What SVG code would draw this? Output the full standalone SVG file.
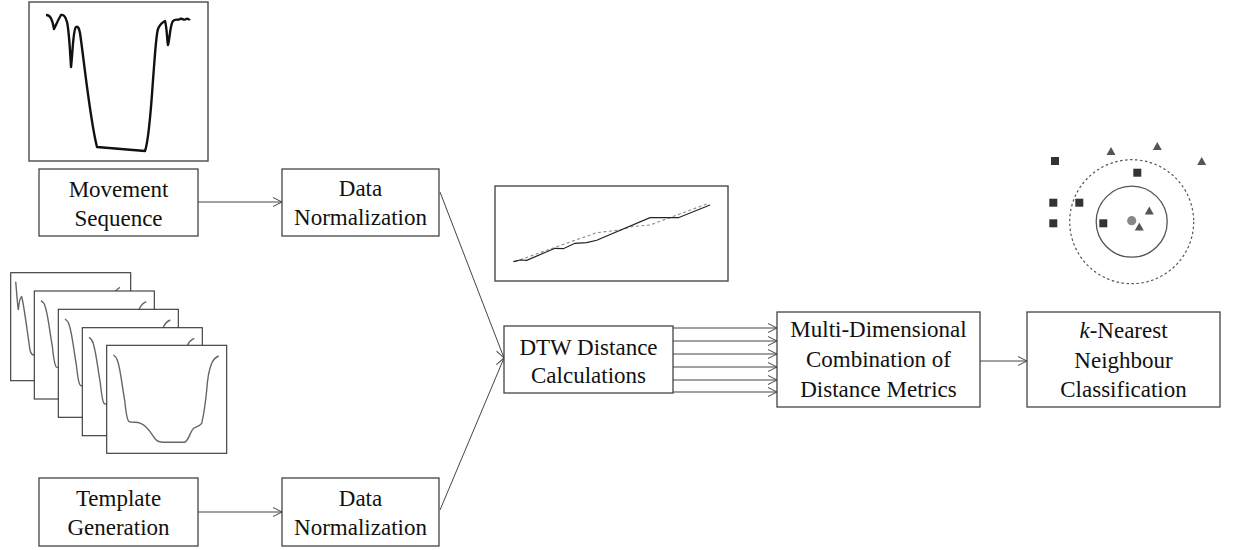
<svg xmlns="http://www.w3.org/2000/svg" width="1233" height="550" viewBox="0 0 1233 550">
<style>
.box{fill:#fff;stroke:#444;stroke-width:1.3}
.pbox{fill:#fff;stroke:#555;stroke-width:1.5}
.tbox{fill:#fff;stroke:#333;stroke-width:1.1}
.lbl{font-family:'Liberation Serif','DejaVu Serif','Noto Serif',serif;font-size:23px;fill:#111;text-anchor:middle}
.con{fill:none;stroke:#444;stroke-width:1;marker-end:url(#ah)}
.curve{fill:none;stroke:#666;stroke-width:1.4}
.sq{fill:#333}
.tri{fill:#555}
</style>
<defs>
<marker id="ah" viewBox="0 0 10 10" refX="9" refY="5" markerWidth="10" markerHeight="10" markerUnits="userSpaceOnUse" orient="auto">
<path d="M0,0.5 L9,5 L0,9.5" fill="none" stroke="#444" stroke-width="1"/>
</marker>
<path id="tc" d="M6.7,9.7 C9,11 10,12 11,16 C14,25 16,45 18,55 C19,65 20,74 22,76 C25,78 30,76 34,78 C39,80 42,84 46,90 C49,95 51,97 56,97 L78,97 C82,95 83,88 86,84 C88,81 92,82 95,78 C97,70 99,55 100,45 C101,30 102,25 105,18 C107,13 109,12 112,10.7"/>
</defs>

<g id="movement-plot">
<rect class="pbox" x="29" y="2" width="179" height="159"/>
<path d="M46,15 C50,15 52,18 54,29 C56,25 58,20 61,15 C64,14 66,18 67,22 C69,30 70,50 71,67 C73,50 73,30 76,27 C78,26 79,28 80,33 C84,60 90,120 97,147 L145,151 C149,140 151,110 153,80 C155,55 156,35 158,29 C160,24 163,22 165,21 C167,28 167,40 168,45 C170,38 170,25 173,21 C176,18 178,21 180,19 C183,18 184,21 186,19 C188,18 189,20 190,19" fill="none" stroke="#111" stroke-width="2.4" stroke-linejoin="round"/>
</g>

<g id="template-stack">
<rect class="tbox" x="10.7" y="272.7" width="120" height="108"/>
<path class="curve" d="M15.7,281.7 C16.5,290 17,300 18.3,310 C19,303 20,297 21.7,296.7 C24,305 27,330 30,350 C31,354 32,355 34,355"/>
<path class="curve" d="M115,292 C117,289 118,288 120,287.3"/>
<rect class="tbox" x="34.3" y="291" width="120" height="108"/>
<use href="#tc" class="curve" transform="translate(34.3,291)"/>
<rect class="tbox" x="58.3" y="309.3" width="120" height="108"/>
<use href="#tc" class="curve" transform="translate(58.3,309.3)"/>
<rect class="tbox" x="82.3" y="327.7" width="120" height="108"/>
<use href="#tc" class="curve" transform="translate(82.3,327.7)"/>
<rect class="tbox" x="106.7" y="345.3" width="120" height="108"/>
<use href="#tc" class="curve" transform="translate(106.7,345.3)"/>
</g>

<g id="dtw-plot">
<rect class="pbox" x="495" y="186" width="233" height="95"/>
<polyline points="515,261.7 556.7,246.7 596.7,232.7 620,230 631.7,226.7 650,225 706.7,204" fill="none" stroke="#888" stroke-width="1.1" stroke-dasharray="3,2.5"/>
<polyline points="513.3,261.7 520,260 526.7,260.3 555,248.3 563.3,248.7 575,243.3 586.7,242.7 596.7,240.3 650,217.7 678.3,217.7 710,205" fill="none" stroke="#222" stroke-width="1.2"/>
</g>

<g id="knn-plot">
<circle cx="1131.7" cy="221.7" r="62" fill="none" stroke="#555" stroke-width="1.2" stroke-dasharray="2.5,2.5"/>
<circle cx="1131.7" cy="221.7" r="35.5" fill="none" stroke="#555" stroke-width="1.3"/>
<rect class="sq" x="1051" y="157" width="8" height="8"/>
<rect class="sq" x="1133.3" y="168.7" width="8" height="8"/>
<rect class="sq" x="1049.3" y="198.7" width="8" height="8"/>
<rect class="sq" x="1075.3" y="198.7" width="8" height="8"/>
<rect class="sq" x="1049.3" y="219.3" width="8" height="8"/>
<rect class="sq" x="1099.3" y="219.3" width="8" height="8"/>
<polygon class="tri" points="1111,147 1115.5,155 1106.5,155"/>
<polygon class="tri" points="1157.3,142 1161.8,150 1152.8,150"/>
<polygon class="tri" points="1201.7,157 1206.2,165 1197.2,165"/>
<polygon class="tri" points="1149.3,206.5 1153.8,214.5 1144.8,214.5"/>
<polygon class="tri" points="1139.3,222.5 1143.8,230.5 1134.8,230.5"/>
<circle cx="1131.7" cy="220.7" r="4.6" fill="#888"/>
</g>

<g id="connectors">
<line class="con" x1="198" y1="202" x2="282" y2="202"/>
<line class="con" x1="198" y1="512" x2="282" y2="512"/>
<line class="con" x1="440" y1="192" x2="504" y2="358"/>
<line class="con" x1="440" y1="510" x2="504" y2="358"/>
<line class="con" x1="673" y1="328" x2="777" y2="328"/>
<line class="con" x1="673" y1="341" x2="777" y2="341"/>
<line class="con" x1="673" y1="354" x2="777" y2="354"/>
<line class="con" x1="673" y1="367" x2="777" y2="367"/>
<line class="con" x1="673" y1="380" x2="777" y2="380"/>
<line class="con" x1="673" y1="392" x2="777" y2="392"/>
<line class="con" x1="980" y1="361" x2="1027" y2="361"/>
</g>

<g id="movement-sequence">
<rect class="box" x="39" y="169" width="159" height="67"/>
<text class="lbl" x="118.5" y="197">Movement</text>
<text class="lbl" x="118.5" y="225.5">Sequence</text>
</g>

<g id="data-normalization-1">
<rect class="box" x="282" y="169" width="157" height="67"/>
<text class="lbl" x="360.5" y="196.3">Data</text>
<text class="lbl" x="360.5" y="224.7">Normalization</text>
</g>

<g id="template-generation">
<rect class="box" x="39" y="478" width="159" height="68"/>
<text class="lbl" x="118.5" y="506">Template</text>
<text class="lbl" x="118.5" y="534.5">Generation</text>
</g>

<g id="data-normalization-2">
<rect class="box" x="282" y="478" width="157" height="68"/>
<text class="lbl" x="360.5" y="506">Data</text>
<text class="lbl" x="360.5" y="534.5">Normalization</text>
</g>

<g id="dtw">
<rect class="box" x="504" y="326" width="169" height="67"/>
<text class="lbl" x="588.5" y="355">DTW Distance</text>
<text class="lbl" x="588.5" y="382.5">Calculations</text>
</g>

<g id="multi-dimensional">
<rect class="box" x="777" y="312" width="203" height="95"/>
<text class="lbl" x="878.5" y="336.5">Multi-Dimensional</text>
<text class="lbl" x="878.5" y="366.5">Combination of</text>
<text class="lbl" x="878.5" y="396.5">Distance Metrics</text>
</g>

<g id="knn">
<rect class="box" x="1027" y="312" width="193" height="95"/>
<text class="lbl" x="1123.5" y="338"><tspan font-style="italic">k</tspan>-Nearest</text>
<text class="lbl" x="1123.5" y="368">Neighbour</text>
<text class="lbl" x="1123.5" y="396.5">Classification</text>
</g>
</svg>
